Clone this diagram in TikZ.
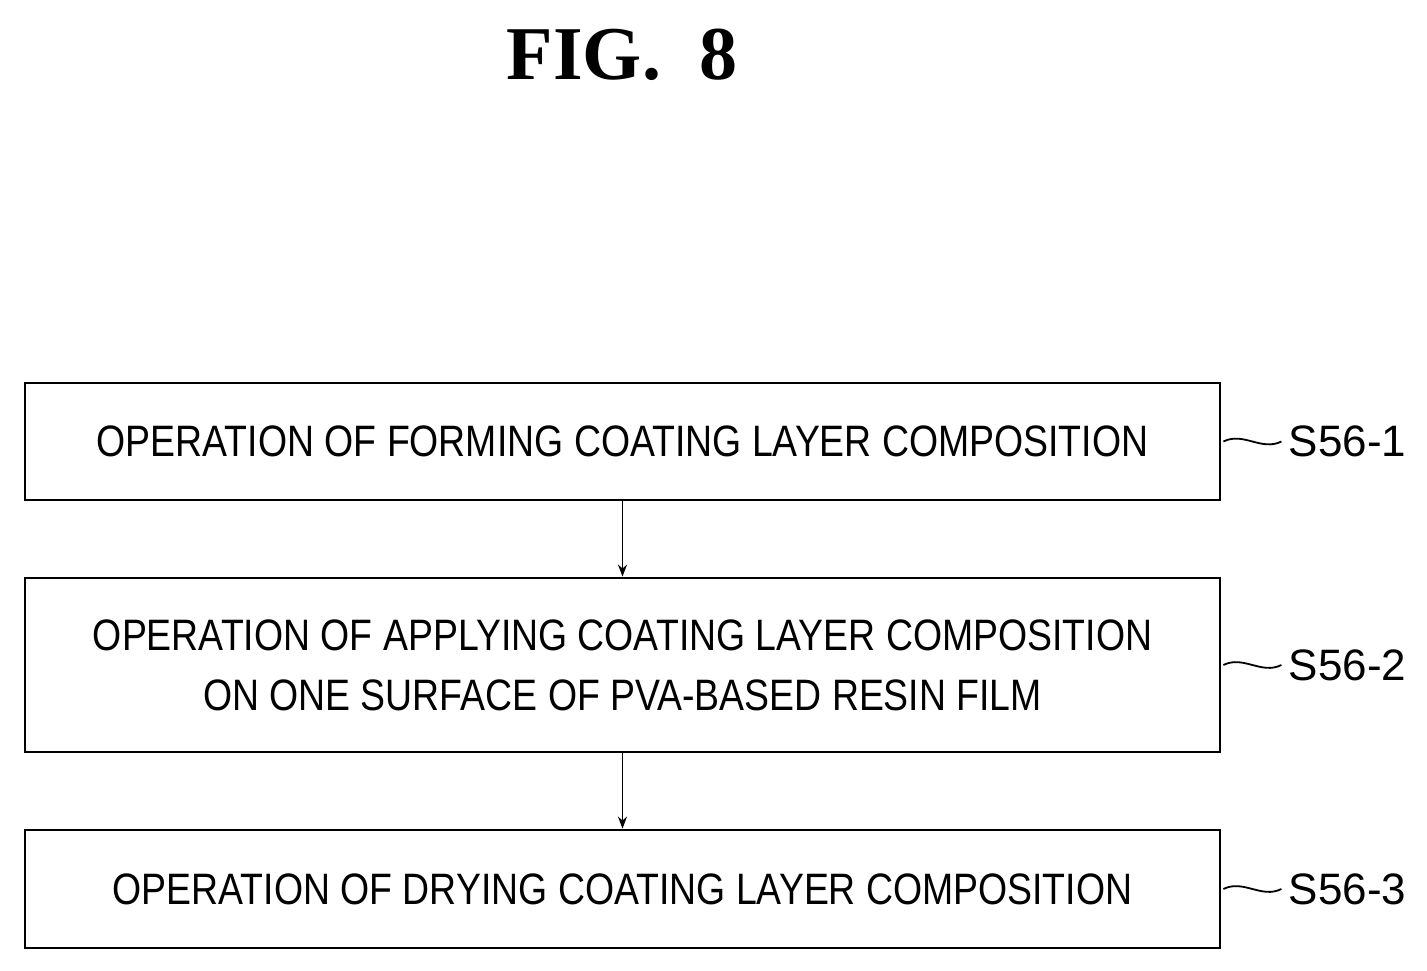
\documentclass[tikz,border=0pt]{standalone}
\usepackage{fontspec}
\usetikzlibrary{arrows.meta}
\setmainfont{Liberation Serif}
\newfontfamily\cond[FakeStretch=0.85]{Liberation Sans}
\newfontfamily\condl[FakeStretch=1.0]{Liberation Sans}
\begin{document}
\begin{tikzpicture}[x=1pt,y=-1pt,
  stepbox/.style={draw,line width=2.8pt,minimum width=1195pt,align=center,font=\cond\fontsize{44}{60}\selectfont,inner sep=0pt},
  lbl/.style={font=\condl\fontsize{44}{50}\selectfont,anchor=west},
  arr/.style={line width=1.8pt,-{Stealth[length=12pt,width=9pt]}}]
\useasboundingbox (0,0) rectangle (1427,971);
\node[font=\bfseries\fontsize{76}{80}\selectfont] (title) at (622,55) {FIG.\ \ 8};
\node[stepbox,minimum height=117pt] (b1) at (622.5,441.5) {OPERATION OF FORMING COATING LAYER COMPOSITION};
\node[stepbox,minimum height=174pt] (b2) at (622.5,665) {OPERATION OF APPLYING COATING LAYER COMPOSITION\\ON ONE SURFACE OF PVA-BASED RESIN FILM};
\node[stepbox,minimum height=118pt] (b3) at (622.5,889) {OPERATION OF DRYING COATING LAYER COMPOSITION};
\draw[arr] (b1.south) -- (b2.north);
\draw[arr] (b2.south) -- (b3.north);
\foreach \b/\t/\n in {b1/S56-1/l1,b2/S56-2/l2,b3/S56-3/l3}{
  \node[lbl] (\n) at ([xshift=64pt]\b.east) {\t};
  \draw[line width=1.8pt] ([xshift=2pt]\b.east) .. controls +(20,-10) and +(-20,10) .. ([xshift=-4pt]\n.west);
}
\end{tikzpicture}
\end{document}
